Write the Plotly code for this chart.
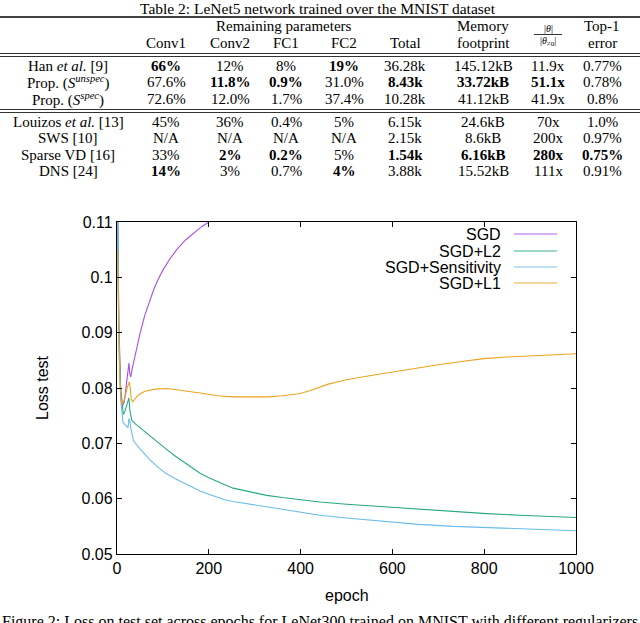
import plotly.graph_objects as go

# ---- curve readings: epoch / test loss ----
sgd_epoch = [1, 4, 8, 12, 16, 20, 24, 26, 28, 30, 34, 40, 50, 60, 70, 80, 90, 100,
             115, 130, 150, 170, 185, 200]
sgd_loss = [0.115, 0.092, 0.080, 0.0768, 0.0775, 0.0800, 0.0825, 0.0845, 0.0825, 0.0820,
            0.0838, 0.0862, 0.0898, 0.0930, 0.0956, 0.0978, 0.0997, 0.1013,
            0.1033, 0.1050, 0.1068, 0.1082, 0.1092, 0.1100]

l2_epoch = [1, 4, 8, 11, 14, 18, 22, 26, 28, 30, 32, 40, 50, 72, 90, 108, 125, 145,
            160, 181, 200, 217, 235, 253, 290, 326, 360, 399, 442, 500, 588, 650,
            732, 805, 878, 940, 1000]
l2_loss = [0.115, 0.090, 0.079, 0.0766, 0.0752, 0.0760, 0.0770, 0.0782, 0.0760, 0.0745,
           0.0742, 0.0735, 0.0728, 0.0713, 0.0701, 0.0689, 0.0678, 0.0667,
           0.0658, 0.0646, 0.0638, 0.0631, 0.0625, 0.0619, 0.0612, 0.0606, 0.0602,
           0.0598, 0.0594, 0.0590, 0.0585, 0.0581, 0.0577, 0.0573, 0.0570, 0.0568,
           0.0566]

sens_epoch = [1, 4, 8, 11, 13, 16, 20, 24, 26, 28, 30, 33, 36, 50, 72, 90, 108, 125,
              145, 160, 181, 200, 217, 235, 253, 290, 326, 360, 399, 442, 500, 588,
              650, 732, 805, 878, 940, 1000]
sens_loss = [0.115, 0.088, 0.078, 0.0752, 0.0738, 0.0735, 0.0732, 0.0728, 0.0745, 0.0740,
             0.0728, 0.0712, 0.0704, 0.0690, 0.0670, 0.0656, 0.0645, 0.0637,
             0.0629, 0.0622, 0.0614, 0.0608, 0.0603, 0.0598, 0.0595, 0.0590, 0.0586,
             0.0581, 0.0576, 0.0570, 0.0565, 0.0558, 0.0554, 0.0550, 0.0548, 0.0546,
             0.0544, 0.0542]

l1_epoch = [1, 3, 6, 9, 11, 14, 18, 22, 25, 27, 29, 31, 34, 40, 47, 61, 83, 109, 140,
            181, 220, 253, 290, 327, 360, 399, 420, 440, 460, 480, 500, 550, 600, 650,
            700, 750, 800, 850, 900, 950, 1000]
l1_loss = [0.105, 0.092, 0.0814, 0.0778, 0.0770, 0.0775, 0.0785, 0.0800, 0.0808, 0.0811,
           0.0800, 0.0780, 0.0775, 0.0782, 0.0788, 0.0794, 0.0798, 0.0799, 0.0796,
           0.0791, 0.0786, 0.0784, 0.0784, 0.0784, 0.0786, 0.0790, 0.0795, 0.0801,
           0.0807, 0.0811, 0.0815, 0.0822, 0.0829, 0.0836, 0.0842, 0.0848, 0.0853,
           0.0856, 0.0858, 0.0860, 0.0862]

series_names = ["SGD", "SGD+L2", "SGD+Sensitivity", "SGD+L1"]
series_colors = ["#a950e8", "#27a982", "#6cbdea", "#eaa51c"]

y_ticks = [0.05, 0.06, 0.07, 0.08, 0.09, 0.1, 0.11]
x_ticks = [0, 200, 400, 600, 800, 1000]

# ---- table 2 ----
table_title = "Table 2: LeNet5 network trained over the MNIST dataset"
row_labels = ["Han <i>et al.</i> [9]",
              "Prop. (<i>S</i><sup><i>unspec</i></sup>)",
              "Prop. (<i>S</i><sup><i>spec</i></sup>)",
              "Louizos <i>et al.</i> [13]",
              "SWS [10]",
              "Sparse VD [16]",
              "DNS [24]"]
col_heads = ["Conv1", "Conv2", "FC1", "FC2", "Total", "footprint", None, "error"]
col_heads_top = [None, None, None, None, None, "Memory", None, "Top-1"]
conv1 = ["66%", "67.6%", "72.6%", "45%", "N/A", "33%", "14%"]
conv2 = ["12%", "11.8%", "12.0%", "36%", "N/A", "2%", "3%"]
fc1 = ["8%", "0.9%", "1.7%", "0.4%", "N/A", "0.2%", "0.7%"]
fc2 = ["19%", "31.0%", "37.4%", "5%", "N/A", "5%", "4%"]
total = ["36.28k", "8.43k", "10.28k", "6.15k", "2.15k", "1.54k", "3.88k"]
memory = ["145.12kB", "33.72kB", "41.12kB", "24.6kB", "8.6kB", "6.16kB", "15.52kB"]
ratio = ["11.9x", "51.1x", "41.9x", "70x", "200x", "280x", "111x"]
top1 = ["0.77%", "0.78%", "0.8%", "1.0%", "0.97%", "0.75%", "0.91%"]
# (row, column) cells printed in bold
bold_cells = {(0, 0), (0, 3), (1, 1), (1, 2), (1, 4), (1, 5), (1, 6),
              (5, 1), (5, 2), (5, 4), (5, 5), (5, 6), (5, 7), (6, 0), (6, 3)}

caption = ("Figure 2: Loss on test set across epochs for LeNet300 trained on MNIST "
           "with different regularizers")

W, H = 640, 623
# plot area in page pixels
PL, PR, PT, PB = 117, 576, 222, 554


def xp(px):
    return (px - PL) / (PR - PL)


def yp(py):
    return (PB - py) / (PB - PT)


SANS = "Liberation Sans"
SERIF = "Liberation Serif"

fig = go.Figure()

for ep, loss, name, color in zip([sgd_epoch, l2_epoch, sens_epoch, l1_epoch],
                                 [sgd_loss, l2_loss, sens_loss, l1_loss],
                                 series_names, series_colors):
    fig.add_trace(
        go.Scatter(
            x=ep,
            y=loss,
            name=name,
            mode='lines',
            line=dict(color=color, width=1.1),
            showlegend=False
        )
    )

annotations = []
shapes = []


def label(x, y, text, font, **kw):
    a = dict(x=xp(x), y=yp(y), xref='paper', yref='paper', text=text,
             showarrow=False, xanchor='center', yanchor='middle', font=font)
    a.update(kw)
    annotations.append(a)


def hline(x0, x1, y, color='black', width=1, **kw):
    s = dict(type='line', xref='paper', yref='paper', x0=xp(x0), x1=xp(x1),
             y0=yp(y), y1=yp(y), line=dict(color=color, width=width))
    s.update(kw)
    shapes.append(s)


''' legend (text left of key, like gnuplot) '''
sfont = dict(family=SANS, size=16, color='black')
leg_rows = [234, 251, 267, 283]
for name, color, ry in zip(series_names, series_colors, leg_rows):
    label(503, ry, name, sfont, xanchor='right')
    hline(514, 557, ry, color=color, width=1.5, opacity=0.6)

''' axis titles '''
label(42, 388, 'Loss test', sfont, textangle=-90)
label(347, 595, 'epoch', sfont)

''' table '''
tfont = dict(family=SERIF, size=15, color='black')
label(318, 8, table_title, dict(family=SERIF, size=15.5, color='black'))

col_x = [166, 230, 286, 344, 405, 483, 548, 602]
label_x = 68
row_y = [66, 82, 99, 122, 138, 155, 171]

label(284, 26, 'Remaining parameters', tfont)
for cx, h, ht in zip(col_x, col_heads, col_heads_top):
    if h:
        label(cx, 43, h, tfont)
    if ht:
        label(cx, 26, ht, tfont)

# |theta| / |theta_{!=0}| header
small = dict(family=SERIF, size=10, color='black')
label(548, 28, '|<i>θ</i>|', small)
label(548, 41, '|<i>θ</i><sub>≠0</sub>|', small)
hline(534, 562, 34.5, width=0.8)

columns = [conv1, conv2, fc1, fc2, total, memory, ratio, top1]
for r, (lab, ry) in enumerate(zip(row_labels, row_y)):
    label(label_x, ry, lab, tfont)
    for c, (col, cx) in enumerate(zip(columns, col_x)):
        txt = col[r]
        if (r, c) in bold_cells:
            txt = '<b>' + txt + '</b>'
        label(cx, ry, txt, tfont)

for ly, lw in [(17, 1.3), (53.5, 0.8), (56.5, 0.8), (109.5, 0.8), (112.5, 0.8)]:
    hline(0, 640, ly, width=lw)

''' caption, cut by page bottom '''
label(0, 611, caption, dict(family=SERIF, size=16, color='black'),
      xanchor='left', yanchor='top')

fig.update_layout(
    width=W, height=H,
    margin=dict(l=PL, r=W - PR, t=PT, b=H - PB, pad=0),
    paper_bgcolor='white', plot_bgcolor='white',
    showlegend=False,
    annotations=annotations,
    shapes=shapes,
    font=dict(family=SANS, size=16, color='black'),
)
fig.update_xaxes(range=[0, 1000], tickvals=x_ticks, ticks='inside', ticklen=5,
                 tickcolor='black', showline=True, linecolor='black', linewidth=1,
                 mirror='ticks', showgrid=False, zeroline=False,
                 tickfont=dict(family=SANS, size=16, color='black'))
fig.update_yaxes(range=[0.05, 0.11], tickvals=y_ticks, ticks='inside', ticklen=5,
                 tickcolor='black', showline=True, linecolor='black', linewidth=1.3,
                 mirror='ticks', showgrid=False, zeroline=False,
                 tickfont=dict(family=SANS, size=16, color='black'))

# drop the browser's default page margin so the figure sits at the window corner
fig.write_html("out.html", config={'displayModeBar': False},
               post_script="document.body.style.margin='0';")
